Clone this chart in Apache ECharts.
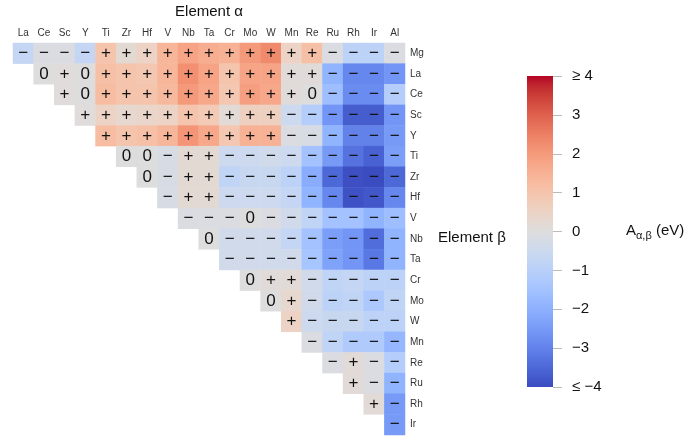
<!DOCTYPE html>
<html>
<head>
<meta charset="utf-8">
<script src="https://cdn.jsdelivr.net/npm/echarts@6/dist/echarts.min.js"></script>
<style>
html, body { margin: 0; padding: 0; background: #fff; }
#chart { width: 693px; height: 436px; }
</style>
</head>
<body>
<div id="chart"></div>
<script>
// element alpha (columns) and element beta (rows)
var cols = ['La', 'Ce', 'Sc', 'Y', 'Ti', 'Zr', 'Hf', 'V', 'Nb', 'Ta', 'Cr', 'Mo', 'W', 'Mn', 'Re', 'Ru', 'Rh', 'Ir', 'Al'];
var rows = ['Mg', 'La', 'Ce', 'Sc', 'Y', 'Ti', 'Zr', 'Hf', 'V', 'Nb', 'Ta', 'Cr', 'Mo', 'W', 'Mn', 'Re', 'Ru', 'Rh', 'Ir'];

// A(alpha,beta) in eV, each row starts at the column with the same index
var valMg = [-0.7, -0.1, -0.1, -0.7, 1.0, 0.2, 0.5, 1.4, 1.8, 1.6, 1.5, 2.0, 2.3, 0.5, 1.1, -0.1, -0.9, -0.9, -0.1];
var valLa = [0, 0.05, 0, 1.1, 1.0, 0.9, 1.4, 2.2, 1.8, 1.0, 1.8, 1.8, 0.1, 0.1, -1.9, -2.9, -2.9, -2.6];
var valCe = [0.05, 0, 1.2, 1.0, 1.0, 1.3, 2.0, 1.7, 0.9, 1.9, 1.7, 0.1, 0, -1.6, -2.8, -2.8, -1.1];
var valSc = [0.05, 0.5, 0.3, 0.4, 0.5, 1.0, 0.8, 0.15, 0.6, 0.6, -0.5, -1.1, -2.6, -3.7, -3.7, -2.6];
var valY = [1.2, 1.0, 1.1, 1.4, 2.1, 1.7, 0.9, 1.5, 1.5, -0.1, -0.2, -1.9, -3.0, -3.0, -2.5];
var valTi = [0, 0, -0.2, 0.2, 0.2, -0.5, -0.5, -0.4, -0.5, -1.5, -2.5, -3.3, -3.6, -2.4];
var valZr = [0, -0.2, 0.2, 0.2, -0.8, -0.6, -0.6, -0.9, -2.1, -3.5, -3.95, -4.0, -3.5];
var valHf = [-0.2, 0.2, 0.2, -0.5, -0.5, -0.5, -0.7, -1.9, -2.9, -3.9, -3.8, -2.9];
var valV = [-0.1, -0.1, -0.1, 0, -0.1, -0.4, -0.8, -1.5, -1.5, -1.9, -1.6];
var valNb = [0, -0.4, -0.4, -0.4, -0.7, -1.5, -2.4, -2.6, -3.4, -1.9];
var valTa = [-0.4, -0.4, -0.4, -0.4, -1.4, -2.3, -2.6, -3.2, -1.9];
var valCr = [0, 0.1, 0.15, -0.4, -0.8, -0.7, -0.9, -0.9];
var valMo = [0, 0.3, -0.4, -0.9, -0.8, -1.3, -0.8];
var valW = [0.5, -0.5, -0.6, -0.6, -0.9, -0.9];
var valMn = [-0.1, -0.8, -1.2, -1.2, -1.8];
var valRe = [-0.1, 0.15, -0.1, -1.1];
var valRu = [0.15, -0.1, -1.9];
var valRh = [0.15, -2.5];
var valIr = [-2.5];

// sign marks printed in the cells
var sgnMg = '− − − − + + + + + + + + + + + − − − −';
var sgnLa = '0 + 0 + + + + + + + + + + + − − − −';
var sgnCe = '+ 0 + + + + + + + + + + 0 − − − −';
var sgnSc = '+ + + + + + + + + + − − − − − −';
var sgnY = '+ + + + + + + + + − − − − − −';
var sgnTi = '0 0 − + + − − − − − − − − −';
var sgnZr = '0 − + + − − − − − − − − −';
var sgnHf = '− + + − − − − − − − − −';
var sgnV = '− − − 0 − − − − − − −';
var sgnNb = '0 − − − − − − − − −';
var sgnTa = '− − − − − − − − −';
var sgnCr = '0 + + − − − − −';
var sgnMo = '0 + − − − − −';
var sgnW = '+ − − − − −';
var sgnMn = '− − − − −';
var sgnRe = '− + − −';
var sgnRu = '+ − −';
var sgnRh = '+ −';
var sgnIr = '−';

// colorbar ticks
var barTicks = [-4, -3, -2, -1, 0, 1, 2, 3, 4];

var coolwarm = ['#3b4cc0', '#445acc', '#4d68d7', '#5775e1', '#6282ea', '#6c8ef1', '#779af7', '#82a5fb',
	'#8db0fe', '#98b9ff', '#a3c2ff', '#aec9fd', '#b8d0f9', '#c2d5f4', '#ccd9ee', '#d5dbe6', '#dddddd',
	'#e5d8d1', '#ecd3c5', '#f1ccb8', '#f5c4ac', '#f7bba0', '#f7b194', '#f7a687', '#f49a7b', '#f18d6f',
	'#ec7f63', '#e57058', '#de604d', '#d55042', '#cb3e38', '#c0282f', '#b40426'];

var allVals = [valMg, valLa, valCe, valSc, valY, valTi, valZr, valHf, valV, valNb, valTa, valCr, valMo, valW, valMn, valRe, valRu, valRh, valIr];
var allSgn = [sgnMg, sgnLa, sgnCe, sgnSc, sgnY, sgnTi, sgnZr, sgnHf, sgnV, sgnNb, sgnTa, sgnCr, sgnMo, sgnW, sgnMn, sgnRe, sgnRu, sgnRh, sgnIr];

var data = [];
for (var r = 0; r < rows.length; r++) {
	var signs = allSgn[r].split(' ');
	for (var k = 0; k < allVals[r].length; k++) {
		data.push({ name: signs[k], value: [r + k, r, allVals[r][k]] });
	}
}

// gradient for the colour bar (top = +4)
var barStops = coolwarm.map(function (c, i) {
	return { offset: 1 - i / (coolwarm.length - 1), color: c };
}).reverse();

var font = 'Liberation Sans, Arial, Helvetica, sans-serif';
var chart = echarts.init(document.getElementById('chart'));
var option = {
	backgroundColor: '#fff',
	animation: false,
	grid: [
		{ left: 13, top: 43, width: 392, height: 392 },
		// strip right of the colour bar that holds its ticks and labels
		{ left: 553, top: 76, width: 60, height: 311 }
	],
	xAxis: [
		{
			type: 'category',
			data: cols,
			position: 'top',
			gridIndex: 0,
			axisLine: { show: false },
			axisTick: { show: false },
			splitLine: { show: false },
			axisLabel: { fontSize: 10, color: '#333', fontFamily: font, margin: 5 }
		},
		{
			type: 'value', gridIndex: 1, min: 0, max: 1,
			axisLine: { show: false }, axisTick: { show: false }, axisLabel: { show: false }, splitLine: { show: false }
		}
	],
	yAxis: [
		{
			type: 'category',
			data: rows,
			inverse: true,
			position: 'right',
			gridIndex: 0,
			axisLine: { show: false },
			axisTick: { show: false },
			splitLine: { show: false },
			axisLabel: { fontSize: 10, color: '#333', fontFamily: font, margin: 5 }
		},
		{
			type: 'value',
			gridIndex: 1,
			position: 'left',
			z: 20,
			min: -4,
			max: 4,
			interval: 1,
			axisLine: { show: false },
			splitLine: { show: false },
			minorTick: { show: false },
			axisTick: { show: true, inside: true, length: 9, lineStyle: { color: '#bbb', width: 1 } },
			axisLabel: {
				inside: true,
				fontSize: 15,
				color: '#111',
				fontFamily: font,
				margin: 19,
				formatter: function (v) {
					if (v === barTicks[barTicks.length - 1]) return '≥ ' + v;
					if (v === barTicks[0]) return '≤ −' + Math.abs(v);
					return v < 0 ? '−' + Math.abs(v) : '' + v;
				}
			}
		}
	],
	visualMap: {
		type: 'continuous',
		show: false,
		min: -4,
		max: 4,
		dimension: 2,
		seriesIndex: 0,
		inRange: { color: coolwarm }
	},
	series: [
		{
			type: 'heatmap',
			xAxisIndex: 0,
			yAxisIndex: 0,
			data: data,
			label: {
				show: true,
				formatter: '{b}',
				fontSize: 17,
				color: '#111',
				fontFamily: font
			},
			emphasis: { disabled: true }
		}
	],
	graphic: [
		{
			type: 'rect', x: 527, y: 76, z: 0,
			shape: { width: 26, height: 311 },
			style: { fill: new echarts.graphic.LinearGradient(0, 0, 0, 1, barStops) }
		},
		{
			type: 'text', x: 209, y: 12,
			style: { text: 'Element α', font: '15px ' + font, fill: '#111', align: 'center', verticalAlign: 'middle' }
		},
		{
			type: 'text', x: 438, y: 238,
			style: { text: 'Element β', font: '15px ' + font, fill: '#111', align: 'left', verticalAlign: 'middle' }
		},
		{
			type: 'text', x: 626, y: 231,
			style: {
				text: '{a|A}{s|α,β}{a| (eV)}',
				align: 'left',
				verticalAlign: 'middle',
				rich: {
					a: { fontSize: 15, fontFamily: font, fill: '#111', lineHeight: 20, verticalAlign: 'middle' },
					s: { fontSize: 11, fontFamily: font, fill: '#111', lineHeight: 11, verticalAlign: 'bottom' }
				}
			}
		}
	]
};
chart.setOption(option);
</script>
</body>
</html>
